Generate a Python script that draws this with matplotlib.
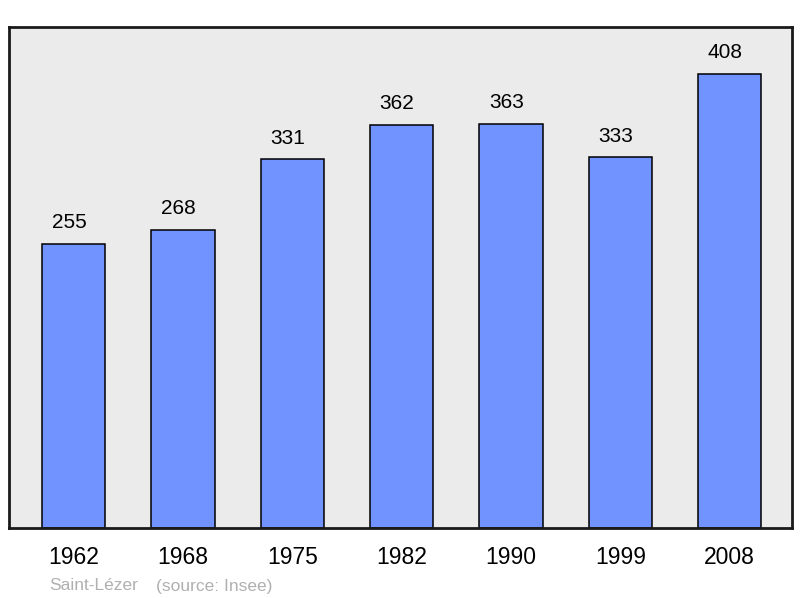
import matplotlib.pyplot as plt

plt.rcParams['font.family'] = ['Liberation Sans', 'DejaVu Sans']

# population by census year
years = ['1962', '1968', '1975', '1982', '1990', '1999', '2008']
population = [255, 268, 331, 362, 363, 333, 408]

fig = plt.figure(figsize=(8, 5.98), dpi=100)
ax = fig.add_axes([9 / 800, 70 / 598, 783 / 800, 501 / 598])
ax.set_facecolor('#ebebeb')

x = range(len(years))
bars = ax.bar(x, population, width=0.58, color='#7093ff', edgecolor='black', linewidth=1.1, zorder=2)

for b, v in zip(bars, population):
    ax.annotate(str(v), (b.get_x() + b.get_width() / 2, v), xytext=(-3.3, 15.2),
                textcoords='offset points', ha='center', va='center', fontsize=15)

ax.set_xlim(-0.59, 6.57)
ax.set_ylim(0, 450)
ax.set_xticks(list(x))
ax.set_xticklabels(years, fontsize=16.5)
ax.tick_params(axis='x', length=0, pad=13)
ax.set_yticks([])
for s in ax.spines.values():
    s.set_linewidth(2)
    s.set_color('#1a1a1a')

fig.text(49 / 800, 1 - 586 / 598, 'Saint-Lézer', color='#b0b0b0', fontsize=12.5, va='center')
fig.text(156 / 800, 1 - 586 / 598, '(source: Insee)', color='#b0b0b0', fontsize=12.5, va='center')

fig.savefig('out.png', dpi=100)
